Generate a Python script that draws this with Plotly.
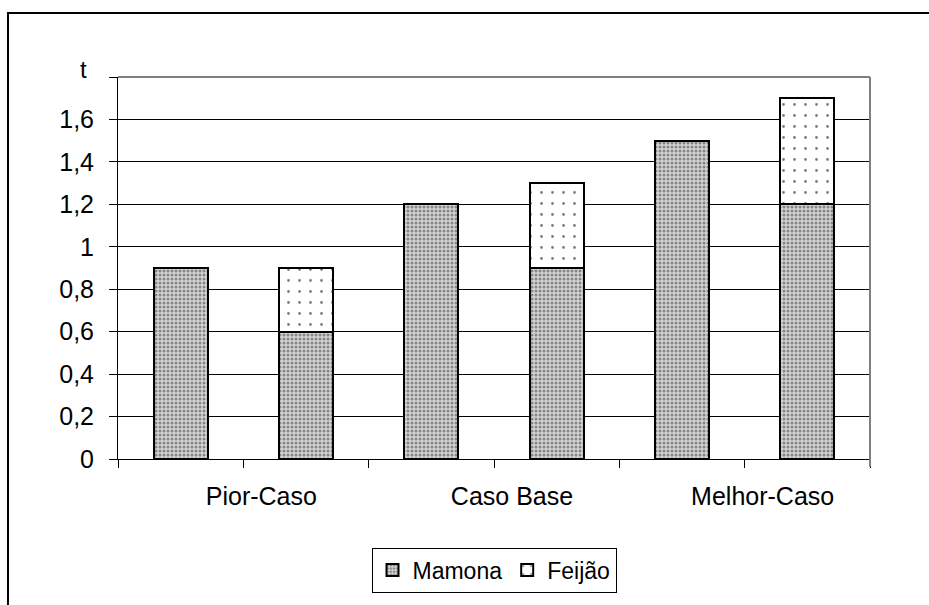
import plotly.graph_objects as go

# ---- data ----
scenarios = ["Pior-Caso", "Caso Base", "Melhor-Caso"]
mamona_solo = [0.9, 1.2, 1.5]          # Mamona alone
mamona_consorcio = [0.6, 0.9, 1.2]     # Mamona in stacked bar
feijao_consorcio = [0.3, 0.4, 0.5]     # Feijão on top
y_tick_values = [0, 0.2, 0.4, 0.6, 0.8, 1.0, 1.2, 1.4, 1.6, 1.8]
y_tick_labels = ["0", "0,2", "0,4", "0,6", "0,8", "1", "1,2", "1,4", "1,6", ""]
y_axis_label = "t"

# slot positions: two bars per scenario
n = len(scenarios)
x_solo = [2 * i for i in range(n)]
x_cons = [2 * i + 1 for i in range(n)]

mam_x = []
mam_y = []
for i in range(n):
    mam_x += [x_solo[i], x_cons[i]]
    mam_y += [mamona_solo[i], mamona_consorcio[i]]

FONT = "Liberation Sans, Arial, sans-serif"

fig = go.Figure()
fig.add_trace(go.Bar(
    x=mam_x, y=mam_y, name="Mamona", width=0.43,
    marker=dict(color="#d9d9d9", line=dict(color="black", width=2),
                pattern=dict(shape=".", fgcolor="#333333", bgcolor="#d4d4d4",
                             size=4, solidity=0.45)),
))
fig.add_trace(go.Bar(
    x=x_cons, y=feijao_consorcio, name="Feijão", width=0.43,
    marker=dict(color="white", line=dict(color="black", width=2),
                pattern=dict(shape=".", fgcolor="#000000", bgcolor="white",
                             size=11, solidity=0.05)),
))

# x ticks at category boundaries, labels under each pair
bounds = [b - 0.5 for b in range(2 * n + 1)]
x_tick_text = []
for b in bounds:
    k = int(b + 0.5)
    if k % 2 == 1:
        x_tick_text.append(scenarios[k // 2])
    else:
        x_tick_text.append("")

fig.update_layout(
    width=929, height=605,
    margin=dict(l=118, r=59, t=77, b=146),
    paper_bgcolor="white", plot_bgcolor="white",
    barmode="stack",
    separators=",.",
    font=dict(family=FONT, size=22, color="black"),
    showlegend=True,
    legend=dict(orientation="h", x=0.5, xanchor="center", y=-0.232, yanchor="top",
                bordercolor="black", borderwidth=1, font=dict(size=23),
                traceorder="normal"),
    xaxis=dict(range=[-0.5, 2 * n - 0.5], tickmode="array", tickvals=bounds,
               ticktext=x_tick_text, ticks="outside", ticklen=8, tickcolor="black",
               showline=True, linecolor="black", linewidth=1, showgrid=False,
               zeroline=False, ticklabelshift=18, ticklabelstandoff=7,
               tickfont=dict(size=25)),
    yaxis=dict(range=[0, 1.8], tickmode="array", tickvals=y_tick_values,
               ticktext=y_tick_labels, ticks="outside", ticklen=8, tickcolor="black",
               showline=True, linecolor="black", linewidth=1,
               showgrid=True, gridcolor="black", gridwidth=1, zeroline=False,
               ticklabelstandoff=10, tickfont=dict(size=25)),
    annotations=[dict(text=y_axis_label, xref="paper", yref="paper",
                      x=-0.046, y=1.02, xanchor="center", yanchor="middle",
                      showarrow=False, font=dict(size=24))],
    shapes=[
        # plot area gray border top/right
        dict(type="line", xref="paper", yref="paper", x0=0, x1=1, y0=1, y1=1,
             line=dict(color="#808080", width=2), layer="above"),
        dict(type="line", xref="paper", yref="paper", x0=1, x1=1, y0=-0.02, y1=1,
             line=dict(color="#808080", width=2), layer="above"),
        # chart outer border
        dict(type="rect", xref="paper", yref="paper", x0=-0.1463, x1=1.09,
             y0=-0.42, y1=1.1675, line=dict(color="black", width=2),
             fillcolor="rgba(0,0,0,0)", layer="below"),
    ],
)

fig.write_html("out.html", config={"displayModeBar": False},
               post_script="document.body.style.margin='0';")
